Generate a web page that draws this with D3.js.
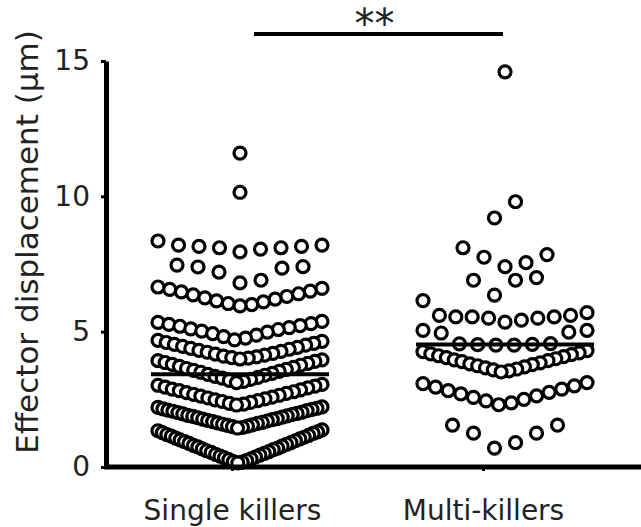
<!DOCTYPE html>
<html>
<head>
<meta charset="utf-8">
<script src="https://cdn.jsdelivr.net/npm/d3@7"></script>
<style>
  body { margin: 0; background: #fff; }
  svg { display: block; font-family: Verdana, "DejaVu Sans", sans-serif; }
</style>
</head>
<body>
<svg id="chart" width="641" height="527"></svg>
<script>
const categories = ['Single killers', 'Multi-killers'];

// displacement values (µm), row by row
const singleKillers = [
  11.6, 10.15,
  8.35, 8.2, 8.2, 8.15, 8.15, 8.1, 8.1, 8.05, 7.95,
  7.46, 7.4, 7.39, 7.35, 7.2, 6.9, 6.8,
  6.65, 6.6, 6.56, 6.5, 6.47, 6.4, 6.36, 6.3, 6.25, 6.2, 6.14, 6.1, 6.04, 6.0, 5.95,
  5.38, 5.34, 5.3, 5.27, 5.22, 5.2, 5.15, 5.1, 5.08, 5.02, 4.98, 4.93, 4.87, 4.82, 4.76, 4.7,
  4.68, 4.64, 4.6, 4.57, 4.53, 4.5, 4.46, 4.42, 4.38, 4.35, 4.31, 4.27, 4.24, 4.2, 4.17, 4.13,
  4.1, 4.07, 4.04, 4.02, 3.99,
  3.96, 3.93, 3.9, 3.86, 3.83, 3.79, 3.76, 3.72, 3.68, 3.64, 3.61, 3.57, 3.53, 3.5, 3.46, 3.42,
  3.39, 3.35, 3.31, 3.28, 3.24, 3.2, 3.16, 3.12,
  3.05, 3.02, 2.99, 2.95, 2.92, 2.88, 2.85, 2.82, 2.78, 2.75, 2.72, 2.68, 2.65, 2.62, 2.58, 2.55,
  2.52, 2.48, 2.45, 2.42, 2.39, 2.35, 2.32, 2.29,
  2.22, 2.2, 2.17, 2.15, 2.13, 2.1, 2.08, 2.06, 2.03, 2.01, 1.98, 1.96, 1.94, 1.91, 1.89, 1.87,
  1.84, 1.82, 1.79, 1.77, 1.75, 1.72, 1.7, 1.68, 1.65, 1.63, 1.61, 1.58, 1.56, 1.54, 1.51, 1.49,
  1.46, 1.44,
  1.37, 1.34, 1.3, 1.27, 1.24, 1.2, 1.17, 1.14, 1.1, 1.07, 1.04, 1.0, 0.97, 0.94, 0.9, 0.87,
  0.84, 0.8, 0.77, 0.74, 0.7, 0.67, 0.64, 0.6, 0.57, 0.54, 0.5, 0.47, 0.44, 0.4, 0.37, 0.34,
  0.3, 0.27, 0.24, 0.2, 0.18, 0.15
];

const multiKillers = [
  14.6,
  9.8, 9.2,
  8.1, 7.85, 7.75, 7.55, 7.4,
  7.0, 6.9, 6.9, 6.35,
  6.15, 5.7, 5.6, 5.6, 5.55, 5.55, 5.55, 5.5, 5.5, 5.43, 5.35,
  5.05, 5.05, 4.98, 4.95, 4.56, 4.55, 4.53, 4.52, 4.5, 4.5,
  4.3, 4.26, 4.22, 4.18, 4.15, 4.11, 4.08, 4.04, 4.0, 3.96, 3.93, 3.89, 3.85, 3.81, 3.78, 3.74,
  3.7, 3.66, 3.62, 3.59, 3.55, 3.51,
  3.12, 3.08, 3.0, 2.95, 2.88, 2.82, 2.76, 2.7, 2.63, 2.57, 2.5, 2.44, 2.37, 2.3,
  1.55, 1.55, 1.25, 1.25, 0.9, 0.7
];

// row boundaries used by the scatter layout
const singleRows = [0, 1.4, 2.25, 3.08, 3.98, 4.7, 5.5, 6.7, 7.6, 9, 11, 13];
const multiRows = [0, 2, 3.3, 4.4, 5.2, 6.25, 7.2, 9, 12, 16];

const yTicks = [0, 5, 10, 15];
const yTitle = 'Effector displacement (\u03bcm)';
const sigLabel = '**';

const svg = d3.select('#chart');
const fontSize = 28;

const y = d3.scaleLinear().domain([0, 15]).range([467, 61]);
const x = d3.scalePoint().domain(categories).range([232, 483]);
const clusterShift = [8, 22];   // the swarms sit a bit right of their ticks
const maxStep = 21, rowSpan = 164;

function swarm(values, rows, cx) {
  const bins = d3.bin()
    .domain([rows[0], rows[rows.length - 1]])
    .thresholds(rows)(values);
  const pts = [];
  bins.forEach(b => {
    if (!b.length) return;
    const vals = b.slice().sort(d3.ascending);
    const n = vals.length;
    const step = n > 1 ? Math.min(maxStep, rowSpan / (n - 1)) : 0;
    const offs = vals.map((v, k) => k === 0 ? 0 : (k % 2 ? 1 : -1) * Math.ceil(k / 2) * step);
    const mid = (d3.max(offs) + d3.min(offs)) / 2;
    vals.forEach((v, k) => pts.push({ v, cx: cx + offs[k] - mid, rank: k }));
  });
  // outer points first so the centre ones sit on top
  return pts.sort((a, b) => b.rank - a.rank);
}

const series = [singleKillers, multiKillers];
const rowSets = [singleRows, multiRows];

series.forEach((vals, i) => {
  const cx = x(categories[i]) + clusterShift[i];
  svg.append('g')
    .selectAll('circle')
    .data(swarm(vals, rowSets[i], cx))
    .enter().append('circle')
    .attr('cx', d => d.cx)
    .attr('cy', d => y(d.v))
    .attr('r', 6)
    .attr('fill', '#fff')
    .attr('stroke', '#000')
    .attr('stroke-width', 3.2);

  // mean line
  const m = d3.mean(vals);
  svg.append('line')
    .attr('x1', cx - 89).attr('x2', cx + 89)
    .attr('y1', y(m)).attr('y2', y(m))
    .attr('stroke', '#000')
    .attr('stroke-width', 4);
});

// y axis
const yAxis = svg.append('g')
  .attr('transform', 'translate(106,0)')
  .call(d3.axisLeft(y).tickValues(yTicks).tickSize(5).tickSizeOuter(0).tickPadding(11));
yAxis.select('.domain').attr('stroke-width', 5).attr('stroke', '#000');
yAxis.selectAll('.tick line').attr('stroke-width', 3);
yAxis.selectAll('.tick text')
  .attr('font-size', fontSize)
  .attr('font-family', 'Verdana, "DejaVu Sans", sans-serif')
  .attr('fill', '#222');

// x axis
const xAxis = svg.append('g')
  .attr('transform', 'translate(0,467)')
  .call(d3.axisBottom(x).tickSize(4).tickPadding(29));
xAxis.select('.domain').remove();
xAxis.selectAll('.tick line').attr('stroke-width', 3);
xAxis.selectAll('.tick text')
  .attr('font-size', fontSize)
  .attr('font-family', 'Verdana, "DejaVu Sans", sans-serif')
  .attr('fill', '#222');
xAxis.append('line')
  .attr('x1', 104).attr('x2', 641)
  .attr('y1', 0).attr('y2', 0)
  .attr('stroke', '#000')
  .attr('stroke-width', 5);

// axis title
svg.append('text')
  .attr('transform', `translate(38,${(y(0) + y(15)) / 2 - 22}) rotate(-90)`)
  .attr('text-anchor', 'middle')
  .attr('font-size', 31)
  .attr('fill', '#222')
  .text(yTitle);

// significance bar
const barY = y(16);
const bx1 = x(categories[0]) + 22, bx2 = x(categories[1]) + 20;
svg.append('line')
  .attr('x1', bx1).attr('x2', bx2)
  .attr('y1', barY).attr('y2', barY)
  .attr('stroke', '#000')
  .attr('stroke-width', 4);
svg.append('text')
  .attr('x', (bx1 + bx2) / 2 - 4)
  .attr('y', barY + 4)
  .attr('text-anchor', 'middle')
  .attr('font-size', 40)
  .attr('fill', '#222')
  .text(sigLabel);
</script>
</body>
</html>
